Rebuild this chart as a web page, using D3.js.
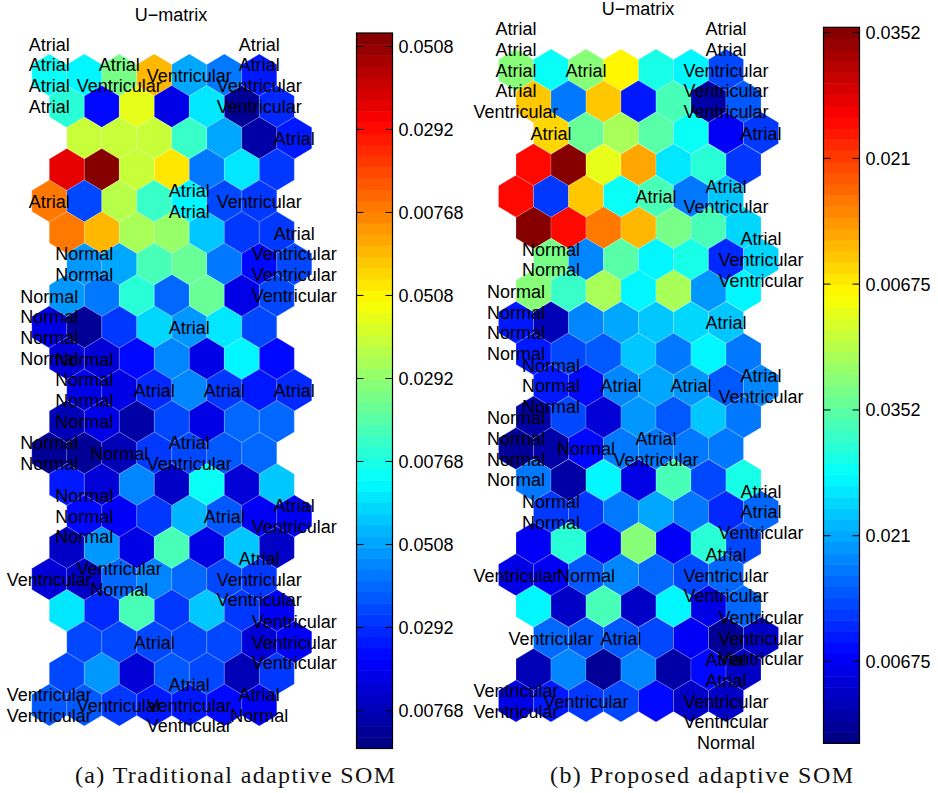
<!DOCTYPE html>
<html lang="en">
<head>
    <meta charset="UTF-8">
    <title>U-matrix</title>
    <script src="https://d3js.org/d3.v7.min.js"></script>
</head>
<style>
    body { margin: 0; background: #fff; }
    svg { display: block; }
    text { font-family: "Liberation Sans", sans-serif; }
</style>
<body>
<script>

    // cell colours are read as levels of the 64 step jet map, one row per line
    var levelsA = [
        [24, 23, 31, 44, 18, 15, 9],
        [26, 8, 38, 6, 22, 1, 10],
        [36, 36, 36, 27, 18, 2, 9],
        [57, 63, 36, 41, 15, 22, 11],
        [48, 12, 35, 27, 23, 12, 11],
        [48, 44, 34, 33, 20, 11, 11],
        [17, 18, 28, 30, 15, 8, 12],
        [17, 15, 26, 14, 30, 6, 12],
        [6, 1, 11, 21, 17, 22, 12],
        [5, 5, 8, 16, 6, 23, 8],
        [6, 6, 10, 16, 11, 9, 10],
        [3, 6, 2, 12, 6, 14, 14],
        [1, 1, 3, 11, 12, 13, 14],
        [9, 5, 16, 4, 24, 5, 20],
        [8, 7, 11, 19, 13, 7, 7],
        [4, 17, 6, 28, 6, 20, 4],
        [5, 4, 14, 16, 14, 12, 11],
        [22, 10, 28, 11, 20, 11, 7],
        [12, 12, 12, 12, 12, 5, 7],
        [12, 17, 5, 13, 12, 3, 11],
        [13, 13, 11, 9, 9, 8, 7]
    ];
    var levelsB = [
        [32, 24, 32, 40, 25, 23, 12],
        [43, 15, 43, 9, 28, 2, 13],
        [42, 30, 34, 29, 24, 7, 11],
        [55, 63, 38, 45, 22, 26, 11],
        [55, 11, 43, 24, 28, 15, 20],
        [63, 55, 48, 44, 31, 28, 21],
        [31, 16, 29, 23, 25, 10, 21],
        [32, 27, 34, 23, 34, 17, 23],
        [9, 3, 16, 18, 20, 21, 20],
        [9, 12, 13, 20, 15, 23, 15],
        [9, 8, 16, 18, 17, 13, 16],
        [2, 12, 5, 17, 13, 20, 15],
        [1, 2, 8, 15, 15, 15, 15],
        [15, 2, 23, 6, 28, 12, 25],
        [11, 11, 15, 18, 15, 10, 14],
        [7, 26, 7, 32, 7, 26, 12],
        [6, 7, 13, 16, 14, 12, 14],
        [23, 4, 28, 4, 23, 6, 14],
        [14, 13, 13, 12, 7, 1, 4],
        [3, 16, 1, 16, 2, 8, 4],
        [6, 9, 11, 12, 8, 4, 4]
    ];

    // row, column, labels stacked on that cell
    var labelsA = [
        [0, 0, ['Atrial', 'Atrial', 'Atrial', 'Atrial']],
        [0, 2, ['Atrial', 'Ventricular']],
        [0, 4, ['Ventricular']],
        [0, 6, ['Atrial', 'Atrial', 'Ventricular', 'Ventricular']],
        [2, 6, ['Atrial']],
        [4, 0, ['Atrial']],
        [4, 4, ['Atrial', 'Atrial']],
        [4, 6, ['Ventricular']],
        [6, 0, ['Normal', 'Normal']],
        [6, 6, ['Atrial', 'Ventricular', 'Ventricular', 'Ventricular']],
        [8, 0, ['Normal', 'Normal', 'Normal', 'Normal']],
        [8, 4, ['Atrial']],
        [10, 0, ['Normal', 'Normal', 'Normal', 'Normal']],
        [10, 2, ['Atrial']],
        [10, 4, ['Atrial']],
        [10, 6, ['Atrial']],
        [12, 0, ['Normal', 'Normal']],
        [12, 2, ['Normal']],
        [12, 4, ['Atrial', 'Ventricular']],
        [14, 0, ['Normal', 'Normal', 'Normal']],
        [14, 4, ['Atrial']],
        [14, 6, ['Atrial', 'Ventricular']],
        [16, 0, ['Ventricular']],
        [16, 2, ['Ventricular', 'Normal']],
        [16, 6, ['Atrial', 'Ventricular', 'Ventricular']],
        [18, 2, ['Atrial']],
        [18, 6, ['Ventricular', 'Ventricular', 'Ventricular']],
        [20, 0, ['Ventricular', 'Ventricular']],
        [20, 2, ['Ventricular']],
        [20, 4, ['Atrial', 'Ventricular', 'Ventricular']],
        [20, 6, ['Atrial', 'Normal']]
    ];
    var labelsB = [
        [0, 0, ['Atrial', 'Atrial', 'Atrial', 'Atrial', 'Ventricular']],
        [0, 2, ['Atrial']],
        [0, 6, ['Atrial', 'Atrial', 'Ventricular', 'Ventricular', 'Ventricular']],
        [2, 0, ['Atrial']],
        [2, 6, ['Atrial']],
        [4, 4, ['Atrial']],
        [4, 6, ['Atrial', 'Ventricular']],
        [6, 0, ['Normal', 'Normal']],
        [6, 6, ['Atrial', 'Ventricular', 'Ventricular']],
        [8, 0, ['Normal', 'Normal', 'Normal', 'Normal']],
        [8, 6, ['Atrial']],
        [10, 0, ['Normal', 'Normal', 'Normal']],
        [10, 2, ['Atrial']],
        [10, 4, ['Atrial']],
        [10, 6, ['Atrial', 'Ventricular']],
        [12, 0, ['Normal', 'Normal', 'Normal', 'Normal']],
        [12, 2, ['Normal']],
        [12, 4, ['Atrial', 'Ventricular']],
        [14, 0, ['Normal', 'Normal']],
        [14, 6, ['Atrial', 'Atrial', 'Ventricular']],
        [16, 0, ['Ventricular']],
        [16, 2, ['Normal']],
        [16, 6, ['Atrial', 'Ventricular', 'Ventricular']],
        [18, 0, ['Ventricular']],
        [18, 2, ['Atrial']],
        [18, 6, ['Ventricular', 'Ventricular', 'Ventricular']],
        [20, 0, ['Ventricular', 'Ventricular']],
        [20, 2, ['Ventricular']],
        [20, 6, ['Atrial', 'Atrial', 'Ventricular', 'Ventricular', 'Normal']]
    ];

    // colour bar ticks, given in levels counted from the bottom of the bar
    var tickLevelsA = [62.84, 55.42, 47.99, 40.57, 33.14, 25.72, 18.29, 10.87, 3.44];
    var tickTextA = ['0.0508', '0.0292', '0.00768', '0.0508', '0.0292', '0.00768', '0.0508', '0.0292', '0.00768'];
    var tickLevelsB = [63.57, 52.33, 41.09, 29.84, 18.6, 7.35];
    var tickTextB = ['0.0352', '0.021', '0.00675', '0.0352', '0.021', '0.00675'];

    var rowOffset = [0, 1, 2, 1];
    var lineHeight = 20.7;
    var fontSize = 18;

    function jet(i) {
        var t = (i + 0.5) / 64;
        function band(c) {
            return Math.round(255 * Math.max(0, Math.min(1, 1.5 - Math.abs(4 * t - c))));
        }
        return d3.rgb(band(3), band(2), band(1)).formatHex();
    }
    var color = d3.scaleQuantize().domain([0, 64]).range(d3.range(64).map(jet));

    var svg = d3.select('body').append('svg')
        .attr('width', 938)
        .attr('height', 793);

    function drawMap(opts) {
        var g = svg.append('g');
        var x = d3.scaleLinear().domain([0, 6]).range(opts.xRange);
        var y = d3.scaleLinear().domain([0, 20]).range(opts.yRange);
        var w = (x(1) - x(0)) / 2;
        var h = 21;

        function cx(r, c) {
            return x(c + rowOffset[r % 4] / 2);
        }

        var hexPath = 'M0,' + (-h) + 'L' + w + ',' + (-h / 2) + 'L' + w + ',' + (h / 2) +
            'L0,' + h + 'L' + (-w) + ',' + (h / 2) + 'L' + (-w) + ',' + (-h / 2) + 'Z';

        var cells = [];
        opts.levels.forEach(function (row, r) {
            row.forEach(function (v, c) {
                cells.push({r: r, c: c, v: v});
            });
        });

        g.selectAll('path.cell')
            .data(cells)
            .enter()
            .append('path')
            .attr('class', 'cell')
            .attr('d', hexPath)
            .attr('transform', function (d) {
                return 'translate(' + cx(d.r, d.c) + ',' + y(d.r) + ')';
            })
            .attr('fill', function (d) { return color(d.v); })
            .attr('stroke', '#fff')
            .attr('stroke-opacity', 0.3)
            .attr('stroke-width', 0.6);

        // each label of a stack gets its own text, centred on the cell
        var lines = [];
        opts.labels.forEach(function (l) {
            l[2].forEach(function (t, i) {
                lines.push({r: l[0], c: l[1], t: t, i: i, n: l[2].length});
            });
        });

        g.selectAll('text.label')
            .data(lines)
            .enter()
            .append('text')
            .attr('class', 'label')
            .attr('x', function (d) { return cx(d.r, d.c); })
            .attr('y', function (d) {
                return y(d.r) + (d.i - (d.n - 1) / 2) * lineHeight + 6.7;
            })
            .attr('text-anchor', 'middle')
            .attr('font-size', fontSize)
            .attr('fill', '#000')
            .text(function (d) { return d.t; });

        svg.append('text')
            .attr('x', opts.titleX)
            .attr('y', opts.titleY)
            .attr('text-anchor', 'middle')
            .attr('font-size', fontSize)
            .attr('fill', '#000')
            .text('U\u2212matrix');

        // colour bar
        var barX = opts.barX, barW = 36;
        var barY = d3.scaleLinear().domain([0, 64]).range(opts.barRange);
        var bar = svg.append('g');
        bar.selectAll('rect')
            .data(d3.range(64))
            .enter()
            .append('rect')
            .attr('x', barX)
            .attr('y', function (d) { return barY(d + 1); })
            .attr('width', barW)
            .attr('height', function (d) { return barY(d) - barY(d + 1) + 0.5; })
            .attr('fill', function (d) { return color(d); });

        var axisR = d3.axisRight(barY)
            .tickValues(opts.tickLevels)
            .tickSize(-7)
            .tickPadding(6)
            .tickFormat(function (d, i) { return opts.tickText[i]; });
        var axisL = d3.axisLeft(barY)
            .tickValues(opts.tickLevels)
            .tickSize(-7)
            .tickFormat('');

        var gr = bar.append('g')
            .attr('transform', 'translate(' + (barX + barW) + ',0)')
            .call(axisR);
        var gl = bar.append('g')
            .attr('transform', 'translate(' + barX + ',0)')
            .call(axisL);
        gr.selectAll('text')
            .attr('font-size', fontSize)
            .attr('dy', '0.36em')
            .attr('font-family', '"Liberation Sans", sans-serif')
            .attr('fill', '#000');
        gr.select('.domain').remove();
        gl.select('.domain').remove();

        bar.append('rect')
            .attr('x', barX)
            .attr('y', opts.barRange[1])
            .attr('width', barW)
            .attr('height', opts.barRange[0] - opts.barRange[1])
            .attr('fill', 'none')
            .attr('stroke', '#000')
            .attr('stroke-width', 1.2);

        svg.append('text')
            .attr('x', opts.captionX)
            .attr('y', 783)
            .attr('font-size', 24)
            .attr('textLength', opts.captionW)
            .attr('lengthAdjust', 'spacing')
            .style('font-family', '"Liberation Serif", serif')
            .attr('fill', '#111')
            .text(opts.caption);
    }

    drawMap({
        levels: levelsA,
        labels: labelsA,
        xRange: [49.3, 259.3],
        yRange: [75, 705],
        titleX: 171,
        titleY: 21,
        barX: 356.5,
        barRange: [748.5, 33],
        tickLevels: tickLevelsA,
        tickText: tickTextA,
        caption: '(a) Traditional adaptive SOM',
        captionX: 75,
        captionW: 320
    });

    drawMap({
        levels: levelsB,
        labels: labelsB,
        xRange: [516, 726],
        yRange: [70, 701],
        titleX: 638,
        titleY: 15,
        barX: 823.5,
        barRange: [743.3, 27.3],
        tickLevels: tickLevelsB,
        tickText: tickTextB,
        caption: '(b) Proposed adaptive SOM',
        captionX: 550,
        captionW: 303
    });

</script>
</body>
</html>
